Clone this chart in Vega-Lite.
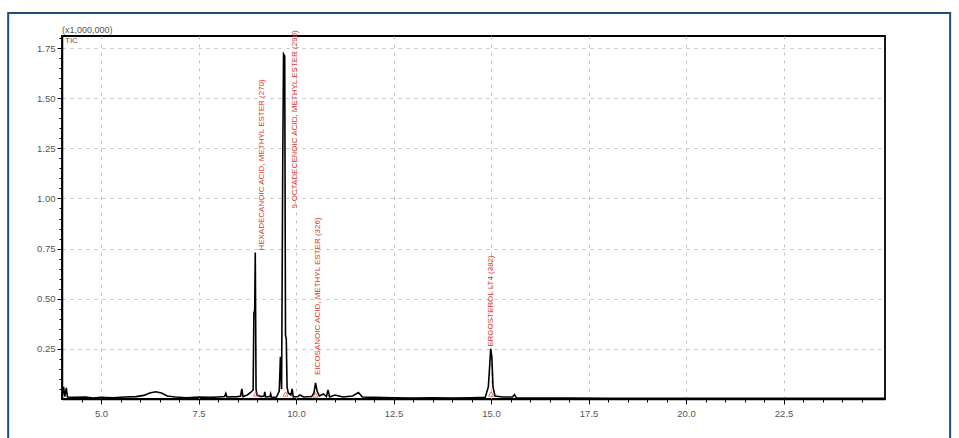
{
  "$schema": "https://vega.github.io/schema/vega-lite/v6.json",
  "width": 823,
  "height": 363,
  "autosize": {"type": "none"},
  "padding": {"left": 62, "top": 36, "right": 74, "bottom": 39},
  "background": "white",
  "config": {
    "view": {"stroke": "#000000", "strokeWidth": 1.8},
    "font": "Liberation Sans",
    "axis": {"labelFont": "Liberation Sans", "labelFontSize": 9.5, "labelColor": "#555555", "domainColor": "#000000", "domainWidth": 1.5, "tickColor": "#000000", "gridColor": "#c4c4c4", "gridDash": [3, 5], "labelOverlap": false, "labelFlush": false, "tickCount": 200}
  },
  "datasets": {
    "tic": [
      {"t": 4.0, "v": 0.01}, {"t": 4.04, "v": 0.06}, {"t": 4.07, "v": 0.012}, {"t": 4.11, "v": 0.055}, {"t": 4.14, "v": 0.01},
      {"t": 4.3, "v": 0.008}, {"t": 4.6, "v": 0.01}, {"t": 4.8, "v": 0.005}, {"t": 5.0, "v": 0.008}, {"t": 5.3, "v": 0.006},
      {"t": 5.6, "v": 0.01}, {"t": 5.9, "v": 0.012}, {"t": 6.1, "v": 0.018}, {"t": 6.25, "v": 0.03}, {"t": 6.4, "v": 0.036},
      {"t": 6.55, "v": 0.03}, {"t": 6.7, "v": 0.015}, {"t": 6.9, "v": 0.01}, {"t": 7.2, "v": 0.006}, {"t": 7.5, "v": 0.01},
      {"t": 7.8, "v": 0.008}, {"t": 8.0, "v": 0.01}, {"t": 8.17, "v": 0.012}, {"t": 8.2, "v": 0.028}, {"t": 8.23, "v": 0.01},
      {"t": 8.5, "v": 0.012}, {"t": 8.58, "v": 0.015}, {"t": 8.61, "v": 0.05}, {"t": 8.64, "v": 0.012}, {"t": 8.75, "v": 0.02},
      {"t": 8.85, "v": 0.035}, {"t": 8.9, "v": 0.045}, {"t": 8.92, "v": 0.43}, {"t": 8.94, "v": 0.44}, {"t": 8.955, "v": 0.73},
      {"t": 8.975, "v": 0.05}, {"t": 9.0, "v": 0.02}, {"t": 9.1, "v": 0.012}, {"t": 9.18, "v": 0.015}, {"t": 9.2, "v": 0.035},
      {"t": 9.22, "v": 0.01}, {"t": 9.33, "v": 0.012}, {"t": 9.35, "v": 0.025}, {"t": 9.37, "v": 0.008}, {"t": 9.5, "v": 0.01},
      {"t": 9.57, "v": 0.04}, {"t": 9.6, "v": 0.21}, {"t": 9.63, "v": 0.05}, {"t": 9.66, "v": 1.2}, {"t": 9.68, "v": 1.72},
      {"t": 9.71, "v": 1.71}, {"t": 9.73, "v": 0.32}, {"t": 9.75, "v": 0.3}, {"t": 9.77, "v": 0.06}, {"t": 9.8, "v": 0.03},
      {"t": 9.87, "v": 0.02}, {"t": 9.9, "v": 0.05}, {"t": 9.93, "v": 0.01}, {"t": 10.05, "v": 0.012}, {"t": 10.1, "v": 0.02},
      {"t": 10.2, "v": 0.01}, {"t": 10.4, "v": 0.012}, {"t": 10.46, "v": 0.03}, {"t": 10.5, "v": 0.08}, {"t": 10.54, "v": 0.04},
      {"t": 10.6, "v": 0.015}, {"t": 10.7, "v": 0.025}, {"t": 10.78, "v": 0.012}, {"t": 10.82, "v": 0.045}, {"t": 10.86, "v": 0.01},
      {"t": 11.0, "v": 0.02}, {"t": 11.2, "v": 0.01}, {"t": 11.45, "v": 0.015}, {"t": 11.6, "v": 0.032}, {"t": 11.7, "v": 0.01},
      {"t": 12.0, "v": 0.008}, {"t": 12.5, "v": 0.006}, {"t": 13.0, "v": 0.005}, {"t": 13.5, "v": 0.006}, {"t": 14.0, "v": 0.005},
      {"t": 14.5, "v": 0.006}, {"t": 14.85, "v": 0.008}, {"t": 14.93, "v": 0.06}, {"t": 14.96, "v": 0.15}, {"t": 14.99, "v": 0.25},
      {"t": 15.02, "v": 0.21}, {"t": 15.05, "v": 0.06}, {"t": 15.1, "v": 0.015}, {"t": 15.3, "v": 0.01}, {"t": 15.55, "v": 0.01},
      {"t": 15.6, "v": 0.022}, {"t": 15.65, "v": 0.006}, {"t": 16.0, "v": 0.005}, {"t": 17.0, "v": 0.005}, {"t": 18.0, "v": 0.004},
      {"t": 19.0, "v": 0.004}, {"t": 20.0, "v": 0.004}, {"t": 21.0, "v": 0.004}, {"t": 22.0, "v": 0.004}, {"t": 23.0, "v": 0.004},
      {"t": 24.0, "v": 0.004}, {"t": 25.1, "v": 0.004}
    ],
    "peaks": [
      {"t": 9.13, "v": 0.74, "name": "HEXADECANOIC ACID, METHYL ESTER (270)"},
      {"t": 9.97, "v": 0.95, "name": "9-OCTADECENOIC ACID, METHYL ESTER (296)"},
      {"t": 10.56, "v": 0.12, "name": "EICOSANOIC ACID, METHYL ESTER (326)"},
      {"t": 15.0, "v": 0.26, "name": "ERGOSTEROL LT4 (382)"}
    ],
    "markers": [
      {"t": 8.97, "v": 0.025}, {"t": 9.73, "v": 0.025}, {"t": 10.5, "v": 0.02}, {"t": 15.0, "v": 0.025}
    ]
  },
  "layer": [
    {
      "data": {"name": "tic"},
      "mark": {"type": "line", "color": "#000000", "strokeWidth": 1.6, "clip": true},
      "encoding": {
        "x": {"field": "t", "type": "quantitative", "scale": {"domain": [4.0, 25.1], "nice": false, "zero": false},
          "axis": {"title": null, "tickCount": 200,
            "values": [4.5, 5, 5.5, 6, 6.5, 7, 7.5, 8, 8.5, 9, 9.5, 10, 10.5, 11, 11.5, 12, 12.5, 13, 13.5, 14, 14.5, 15, 15.5, 16, 16.5, 17, 17.5, 18, 18.5, 19, 19.5, 20, 20.5, 21, 21.5, 22, 22.5, 23, 23.5, 24, 24.5],
            "labelExpr": "abs(datum.value/2.5 - round(datum.value/2.5)) < 0.001 ? format(datum.value, '.1f') : ''",
            "grid": true,
            "gridOpacity": {"condition": {"test": "abs(datum.value/2.5 - round(datum.value/2.5)) < 0.001", "value": 1}, "value": 0},
            "tickSize": {"condition": {"test": "abs(datum.value/2.5 - round(datum.value/2.5)) < 0.001", "value": 5}, "value": 3},
            "labelPadding": 4}},
        "y": {"field": "v", "type": "quantitative", "scale": {"domain": [0, 1.81], "nice": false},
          "axis": {"title": null, "tickCount": 200,
            "values": [0.05, 0.1, 0.15, 0.2, 0.25, 0.3, 0.35, 0.4, 0.45, 0.5, 0.55, 0.6, 0.65, 0.7, 0.75, 0.8, 0.85, 0.9, 0.95, 1.0, 1.05, 1.1, 1.15, 1.2, 1.25, 1.3, 1.35, 1.4, 1.45, 1.5, 1.55, 1.6, 1.65, 1.7, 1.75, 1.8],
            "labelExpr": "abs(datum.value*4 - round(datum.value*4)) < 0.001 ? format(datum.value, '.2f') : ''",
            "grid": true,
            "gridOpacity": {"condition": {"test": "abs(datum.value*4 - round(datum.value*4)) < 0.001", "value": 1}, "value": 0},
            "tickSize": {"condition": {"test": "abs(datum.value*4 - round(datum.value*4)) < 0.001", "value": 5}, "value": 3}}}
      }
    },
    {
      "data": {"values": [{}]},
      "mark": {"type": "rect", "filled": false, "stroke": "#1f4e79", "strokeWidth": 2, "clip": false},
      "encoding": {
        "x": {"datum": 2.62, "type": "quantitative"},
        "x2": {"datum": 26.77},
        "y": {"datum": 1.925, "type": "quantitative"},
        "y2": {"datum": -0.3}
      }
    },
    {
      "data": {"name": "markers"},
      "mark": {"type": "point", "shape": "triangle-up", "color": "#d9382b", "filled": false, "size": 25, "strokeWidth": 1},
      "encoding": {
        "x": {"field": "t", "type": "quantitative"},
        "y": {"field": "v", "type": "quantitative"}
      }
    },
    {
      "data": {"name": "peaks"},
      "mark": {"type": "text", "angle": 270, "align": "left", "baseline": "middle", "color": "#d9382b", "fontSize": 8, "font": "Liberation Sans"},
      "encoding": {
        "x": {"field": "t", "type": "quantitative"},
        "y": {"field": "v", "type": "quantitative"},
        "text": {"field": "name"}
      }
    },
    {
      "data": {"values": [{}]},
      "mark": {"type": "text", "align": "left", "baseline": "bottom", "fontSize": 9, "color": "#555555", "dy": -1, "clip": false},
      "encoding": {
        "x": {"datum": 4.0, "type": "quantitative"},
        "y": {"datum": 1.81, "type": "quantitative"},
        "text": {"value": "(x1,000,000)"}
      }
    },
    {
      "data": {"values": [{}]},
      "mark": {"type": "text", "align": "left", "baseline": "top", "fontSize": 8, "color": "#555555", "dx": 3, "dy": 1},
      "encoding": {
        "x": {"datum": 4.0, "type": "quantitative"},
        "y": {"datum": 1.81, "type": "quantitative"},
        "text": {"value": "TIC"}
      }
    }
  ]
}
